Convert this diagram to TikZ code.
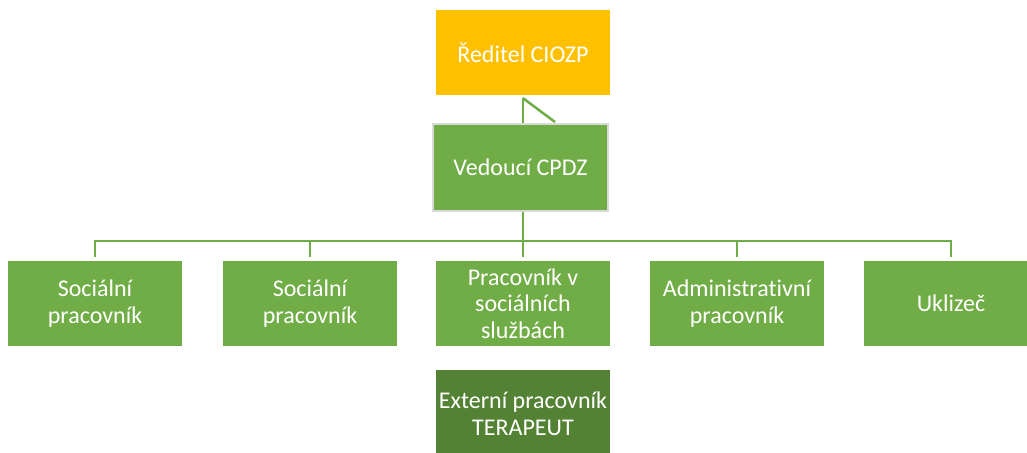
\documentclass[tikz,border=0pt]{standalone}
\usepackage{fontspec}
\setmainfont{Carlito}[Ligatures={NoCommon}]
\usepackage{tikz}
\usetikzlibrary{positioning}

\definecolor{orgorange}{HTML}{FFC000}
\definecolor{orggreen}{HTML}{70AD47}
\definecolor{orgdark}{HTML}{548235}

\begin{document}
\begin{tikzpicture}[
  x=1pt, y=-1pt,
  box/.style={rectangle, fill=orggreen, text=white, align=center,
    minimum width=174pt, minimum height=85pt, inner sep=2pt,
    font=\fontsize{24}{26.5}\selectfont},
  head/.style={box, fill=orgorange},
  lead/.style={box, draw=black!15, line width=2.5pt, minimum width=175pt, minimum height=87pt},
  extern/.style={box, fill=orgdark, minimum height=87pt},
  link/.style={draw=orggreen, line width=2.5pt}
]
\useasboundingbox (0,0) rectangle (1027,452);

% Top
\node[head] (dir) at (523,52.5) {Ředitel CIOZP};
\node[lead] (ved) at (520.5,167.5) {Vedoucí CPDZ};

% Staff
\node[box] (soc1) at (95,303.5) {Sociální\\pracovník};
\node[box] (soc2) at (310,303.5) {Sociální\\pracovník};
\node[box] (psl) at (523,303.5) {Pracovník v\\sociálních\\službách};
\node[box] (adm) at (737,303.5) {Administrativní\\pracovník};
\node[box] (ukl) at (951,303.5) {Uklizeč};

% External
\node[extern] (ext) at (523,413.5) {Externí pracovník\\TERAPEUT};

% Links
\coordinate (kink) at (555,122);
\coordinate (bus) at (523,241);
\draw[link] ([yshift=-3pt]dir.south) -- (dir.south |- ved.north);
\draw[link] ([yshift=-3pt]dir.south) -- (kink);
\draw[link] (dir.south |- ved.south) -- (bus);
\foreach \n in {soc1,soc2,psl,adm,ukl}
  \draw[link] (bus) -| ([yshift=4pt]\n.north);

\end{tikzpicture}
\end{document}
